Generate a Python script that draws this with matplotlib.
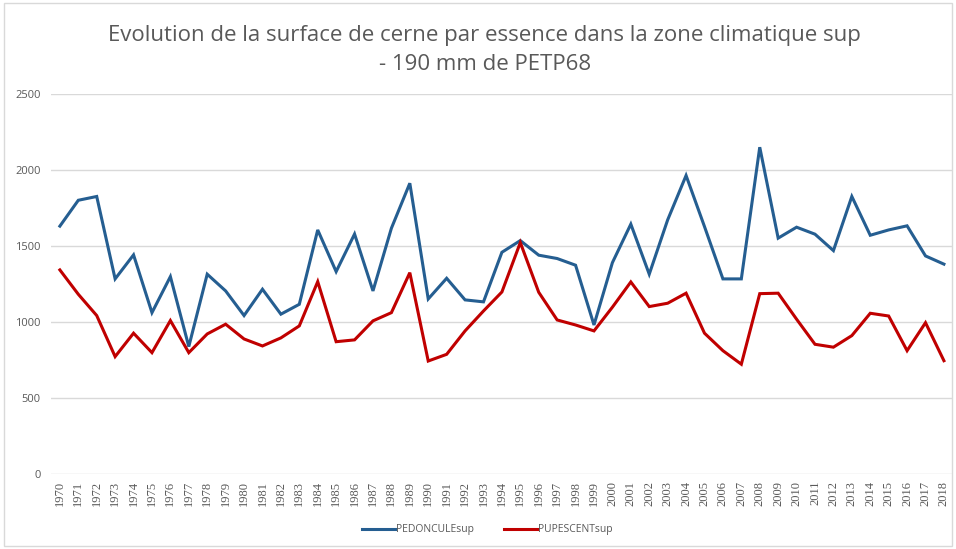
"""Evolution de la surface de cerne par essence (zone climatique sup - 190 mm de PETP68)."""
import matplotlib
matplotlib.use("Agg")
import matplotlib.pyplot as plt
import numpy as np
from matplotlib.patches import Rectangle

YEARS = list(range(1970, 2019))

PEDONCULE = [1630, 1800, 1825, 1283, 1441, 1061, 1298, 838, 1314, 1204,
             1042, 1215, 1051, 1116, 1605, 1331, 1578, 1204, 1616, 1912,
             1151, 1287, 1145, 1132, 1458, 1535, 1439, 1417, 1373, 980,
             1390, 1643, 1314, 1671, 1963, 1627, 1283, 1283, 2149, 1551,
             1623, 1577, 1469, 1825, 1570, 1605, 1632, 1434, 1380]

PUPESCENT = [1342, 1182, 1042, 772, 926, 798, 1009, 798, 921, 985,
             888, 842, 895, 974, 1265, 870, 882, 1007, 1061, 1324,
             743, 787, 941, 1072, 1197, 1522, 1195, 1013, 980, 941,
             1097, 1263, 1101, 1123, 1189, 926, 811, 722, 1186, 1189,
             1018, 853, 834, 910, 1057, 1039, 811, 995, 745]

SERIES = [
    ("PEDONCULEsup", PEDONCULE, "#255e91"),
    ("PUPESCENTsup", PUPESCENT, "#c00000"),
]

TITLE = ("Evolution de la surface de cerne par essence dans la zone climatique sup\n"
         "- 190 mm de PETP68")
TEXT_GREY = "#595959"

plt.rcParams["font.family"] = ["Open Sans", "DejaVu Sans"]

fig = plt.figure(figsize=(9.56, 5.49), dpi=100)
ax = fig.add_axes([0.053, 0.1366, 0.944, 0.6925])

x = np.arange(len(YEARS))
for label, vals, color in SERIES:
    ax.plot(x, vals, color=color, lw=2.2, label=label, zorder=3,
            solid_joinstyle="miter")

ax.set_xlim(-0.5, len(YEARS) - 0.5)
ax.set_ylim(0, 2500)
ax.set_yticks(np.arange(0, 2501, 500))
ax.yaxis.grid(True, color="#d9d9d9", lw=1.0, zorder=1)
ax.set_axisbelow(True)
for s in ax.spines.values():
    s.set_visible(False)
ax.tick_params(axis="both", length=0, colors=TEXT_GREY, labelsize=8)
ax.tick_params(axis="y", pad=7)
ax.tick_params(axis="x", pad=5)
ax.set_xticks(x)
# les années sont dans une police à empattements sur l'original
ax.set_xticklabels([str(y) for y in YEARS], rotation=90, fontsize=9,
                   family=["Liberation Serif", "DejaVu Serif"])

fig.text(0.507, 0.909, TITLE, ha="center", va="center", fontsize=16,
         color=TEXT_GREY, linespacing=1.5)

leg = fig.legend(loc="center", bbox_to_anchor=(0.51, 0.035), ncol=2,
                 frameon=False, fontsize=7.5, handlelength=3.1,
                 columnspacing=2.9, handletextpad=0.15)
for t in leg.get_texts():
    t.set_color(TEXT_GREY)

fig.patches.append(Rectangle((0.004, 0.005), 0.992, 0.99, transform=fig.transFigure,
                             fill=False, edgecolor="#d9d9d9", lw=1.0))

fig.savefig("out.png", dpi=100)
